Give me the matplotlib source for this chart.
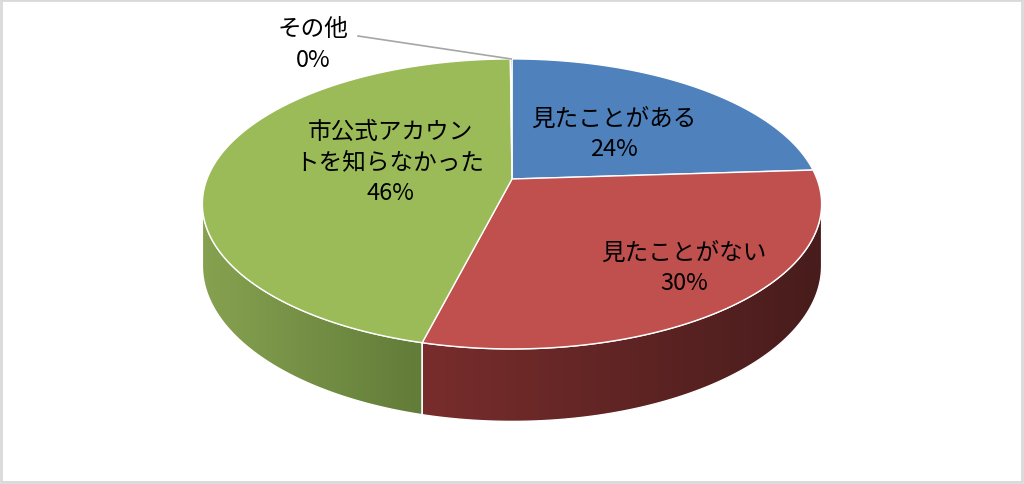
import numpy as np
import matplotlib
matplotlib.use('Agg')
import matplotlib.pyplot as plt
from matplotlib.patches import Polygon, Rectangle

plt.rcParams['font.family'] = ['Noto Sans CJK JP', 'DejaVu Sans']

# ---- data ----
categories = ['見たことがある', '見たことがない', '市公式アカウントを知らなかった', 'その他']
label_text = ['見たことがある', '見たことがない', '市公式アカウン\nトを知らなかった', 'その他']
values = [24, 30, 46, 0.1]

# ---- style ----
top_colors = ['#4F81BD', '#C0504D', '#9BBB59', '#8064A2']
wall_left = ['#3A5F8C', '#782D2C', '#86A250', '#5E4A7A']
wall_right = ['#2A4568', '#481C1C', '#627C39', '#40334F']
label_pos = [(614, 134), (684, 268), (390, 163), (313, 45)]
leader_start = (358, 37)

W, H = 1024, 485
fig = plt.figure(figsize=(W / 100, H / 100), dpi=100)
ax = fig.add_axes([0, 0, 1, 1])
ax.set_xlim(0, W)
ax.set_ylim(H, 0)
ax.axis('off')

cx, cy = 512, 180
A, B, k, D0 = 305, 140.7, 0.172, 60


def proj(theta, r=1.0):
    u = r * np.sin(theta)
    v = r * np.cos(theta)
    s = 1.0 / (1.0 + k * v)
    return cx + A * u * s, cy - B * v * s, s


vals = np.array(values, dtype=float)
frac = vals / vals.sum()
edges = np.concatenate([[0], np.cumsum(frac)]) * 2 * np.pi

vis_lo = np.arccos(-k)
vis_hi = 2 * np.pi - vis_lo

# walls
for i in range(len(vals)):
    a, b = max(edges[i], vis_lo), min(edges[i + 1], vis_hi)
    if b <= a:
        continue
    t = np.linspace(a, b, 200)
    x, y, s = proj(t)
    yb = y + D0 * s
    pts = np.vstack([np.column_stack([x, y]), np.column_stack([x[::-1], yb[::-1]])])
    poly = Polygon(pts, closed=True, facecolor='none', edgecolor='white', lw=1.0, zorder=3)
    ax.add_patch(poly)
    xmin, xmax = x.min(), x.max()
    ymin, ymax = y.min(), yb.max()
    c0 = np.array(matplotlib.colors.to_rgb(wall_left[i]))
    c1 = np.array(matplotlib.colors.to_rgb(wall_right[i]))
    n = 256
    g = np.linspace(0, 1, n)[:, None]
    img = (c0[None, :] * (1 - g) + c1[None, :] * g)[None, :, :]
    im = ax.imshow(img, extent=[xmin, xmax, ymax, ymin], aspect='auto', zorder=2,
                   interpolation='bilinear')
    im.set_clip_path(poly)
    ax.set_xlim(0, W)
    ax.set_ylim(H, 0)

# tops
for i in range(len(vals)):
    t = np.linspace(edges[i], edges[i + 1], max(int(300 * frac[i]) + 2, 3))
    x, y, _ = proj(t)
    pts = np.vstack([[cx, cy], np.column_stack([x, y])])
    ax.add_patch(Polygon(pts, closed=True, facecolor=top_colors[i], edgecolor='white',
                         lw=1.0, zorder=4))

# labels
for i in range(len(vals)):
    pct = f"{round(frac[i] * 100):.0f}%"
    ax.text(label_pos[i][0], label_pos[i][1], f"{label_text[i]}\n{pct}", ha='center',
            va='center', multialignment='center', fontsize=17, linespacing=1.4,
            color='black', zorder=6)

# leader line for the tiny slice
mid = 0.5 * (edges[3] + edges[4])
ex, ey, _ = proj(mid)
ax.plot([leader_start[0], ex], [leader_start[1], ey], color='#A6A6A6', lw=1.2, zorder=5)

# chart border
ax.add_patch(Rectangle((1, 1), W - 3, H - 3, facecolor='none', edgecolor='#D9D9D9', lw=2,
                       zorder=7))

fig.savefig('out.png', dpi=100)
